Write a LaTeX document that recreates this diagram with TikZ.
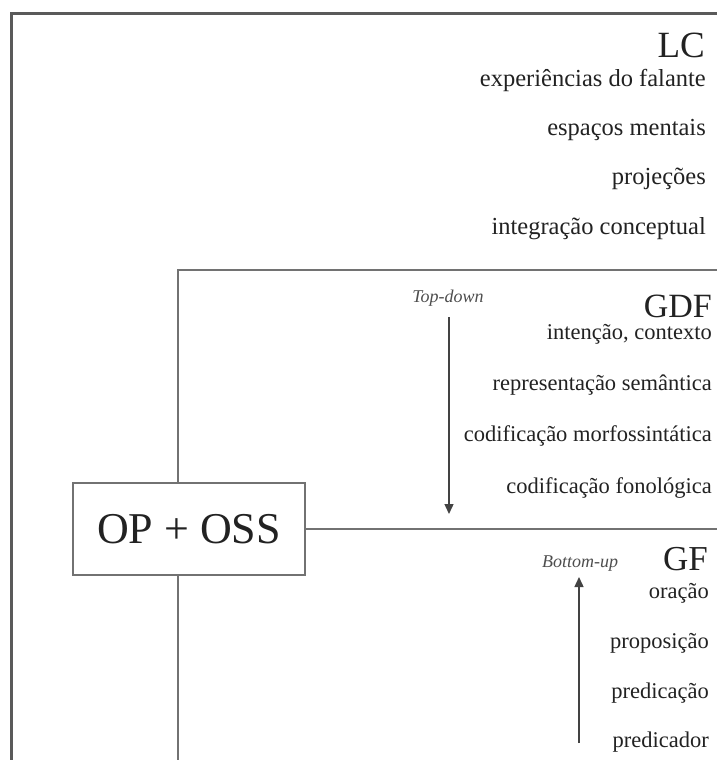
\documentclass[tikz,border=0pt]{standalone}
\usepackage{fontspec}
\setmainfont{Liberation Serif}
\usetikzlibrary{arrows.meta}
\definecolor{linegray}{HTML}{727272}
\definecolor{framegray}{HTML}{5A5A5A}
\definecolor{txt}{HTML}{222222}
\tikzset{
  x=1pt, y=1pt,
  conn/.style={draw=linegray, line width=2pt},
  frame/.style={draw=framegray, line width=3pt},
  head/.style={anchor=base east, inner sep=0pt, text=txt, font=\fontsize{34}{34}\selectfont},
  item/.style={anchor=base east, inner sep=0pt, text=txt, font=\fontsize{22.5}{22.5}\selectfont},
  lcitem/.style={item, font=\fontsize{24.5}{24.5}\selectfont},
  dirlabel/.style={inner sep=0pt, text=txt!80, font=\itshape\fontsize{18}{18}\selectfont},
  flow/.style={draw=txt!85, line width=1.4pt, -{Triangle[length=10pt,width=9pt]}},
  mainbox/.style={draw=linegray, line width=2pt, fill=white, minimum width=232pt, minimum height=92pt, inner sep=0pt, text=txt, font=\fontsize{44}{44}\selectfont}
}
\begin{document}
\begin{tikzpicture}
\useasboundingbox (0,0) rectangle (717,-760);
\fill[white] (0,0) rectangle (717,-760);
% outer frame
\coordinate (ofBL) at (11,-760);
\coordinate (ofTL) at (11,-13.5);
\coordinate (ofTR) at (717,-13.5);
\draw[frame] (ofBL) -- (ofTL) -- (ofTR);
% central box
\node[mainbox] (op) at (189,-529) {OP + OSS};
% inner frame and connectors
\coordinate (ifTL) at (177.5,-270);
\coordinate (ifTR) at (717,-270);
\coordinate (hR) at (717,-529);
\coordinate (vB) at (177.5,-760);
\draw[conn] (op.north -| ifTL) -- (ifTL) -- (ifTR);
\draw[conn] (op.east) -- (hR);
\draw[conn] (op.south -| vB) -- (vB);
% LC
\node[head, font=\fontsize{37}{37}\selectfont] (lc) at (705,-58) {LC};
\node[lcitem] (lc1) at (706,-86) {experiências do falante};
\node[lcitem] (lc2) at (706,-135) {espaços mentais};
\node[lcitem] (lc3) at (706,-184) {projeções};
\node[lcitem] (lc4) at (706,-234) {integração conceptual};
% GDF
\node[head] (gdf) at (712,-317) {GDF};
\node[item] (g1) at (712,-339) {intenção, contexto};
\node[item] (g2) at (712,-390) {representação semântica};
\node[item] (g3) at (712,-441) {codificação morfossintática};
\node[item] (g4) at (712,-493) {codificação fonológica};
\node[dirlabel] (td) at (448,-298) {Top-down};
\coordinate (tdS) at (449,-317);
\coordinate (tdE) at (449,-514);
\draw[flow] (tdS) -- (tdE);
% GF
\node[head, font=\fontsize{35}{35}\selectfont] (gf) at (708,-570) {GF};
\node[item] (f1) at (709,-598) {oração};
\node[item] (f2) at (709,-648) {proposição};
\node[item] (f3) at (709,-698) {predicação};
\node[item] (f4) at (709,-747) {predicador};
\node[dirlabel] (bu) at (580,-564) {Bottom-up};
\coordinate (buS) at (579,-743);
\coordinate (buE) at (579,-577);
\draw[flow] (buS) -- (buE);
\end{tikzpicture}
\end{document}
